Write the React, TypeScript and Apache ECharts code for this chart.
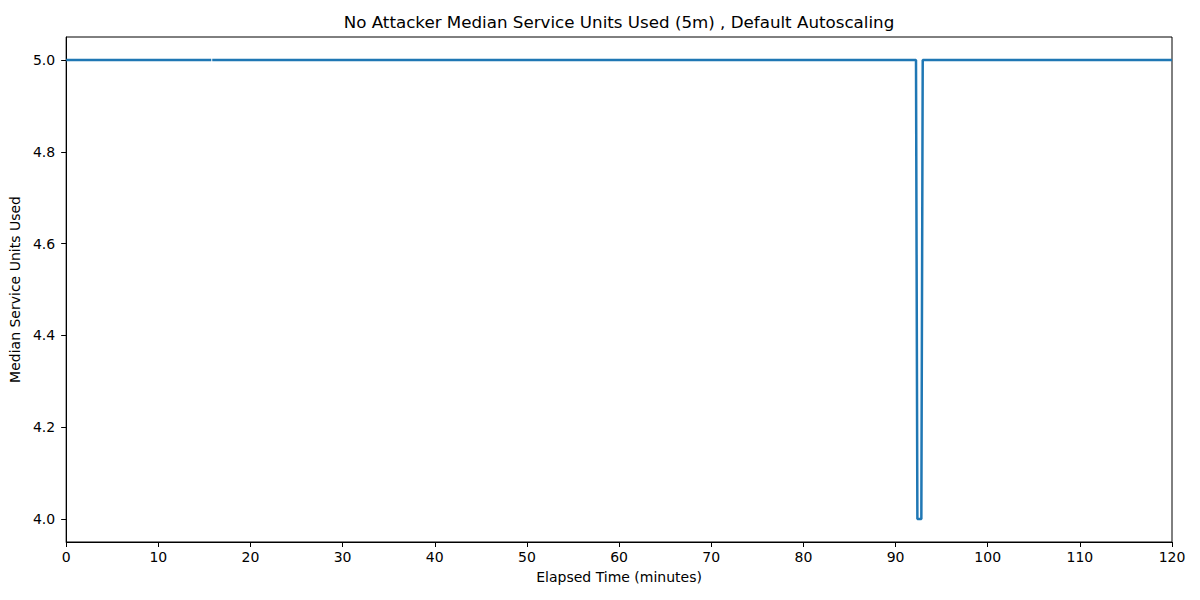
import React, { useEffect, useRef } from "react";
import * as echarts from "echarts";

const titleText = "No Attacker Median Service Units Used (5m) , Default Autoscaling";
const xLabel = "Elapsed Time (minutes)";
const yLabel = "Median Service Units Used";
const yTicks = [4.0, 4.2, 4.4, 4.6, 4.8, 5.0];
// [minutes, median service units]; null marks a small gap in samples
const segmentA: [number, number][] = [
  [0, 5],
  [15.75, 5],
];
const segmentB: [number, number][] = [
  [15.85, 5],
  [92.22, 5],
  [92.37, 4],
  [92.8, 4],
  [92.95, 5],
  [120, 5],
];

export default function App() {
  const ref = useRef<HTMLDivElement>(null);
  useEffect(() => {
    document.body.style.margin = "0";
    const chart = echarts.init(ref.current!, null, { renderer: "svg" });
    const data: any[] = [...segmentA, null, ...segmentB];
    const font = "DejaVu Sans";
    chart.setOption({
      animation: false,
      backgroundColor: "#fff",
      textStyle: { fontFamily: font },
      title: {
        text: titleText,
        left: 619,
        top: 13,
        padding: 0,
        textAlign: "center",
        textStyle: { fontFamily: font, fontSize: 16.7, fontWeight: "normal", color: "#000" },
      },
      grid: {
        left: 66,
        right: 28,
        top: 37,
        bottom: 58,
        show: true,
        borderColor: "#000",
        borderWidth: 1,
        backgroundColor: "transparent",
      },
      xAxis: {
        type: "value",
        min: 0,
        max: 120,
        interval: 10,
        name: xLabel,
        nameLocation: "middle",
        nameGap: 28,
        nameTextStyle: { fontFamily: font, fontSize: 14, color: "#000" },
        axisLine: { show: true, lineStyle: { color: "#000", width: 1 } },
        axisTick: { show: true, length: 5, lineStyle: { color: "#000" } },
        axisLabel: { fontFamily: font, fontSize: 14, color: "#000", margin: 8 },
        splitLine: { show: false },
      },
      yAxis: {
        type: "value",
        min: 3.95,
        max: 5.05,
        name: yLabel,
        nameLocation: "middle",
        nameGap: 37,
        nameTextStyle: { fontFamily: font, fontSize: 14, color: "#000" },
        axisLine: { show: true, lineStyle: { color: "#000", width: 1 } },
        axisTick: {
          show: true,
          length: 5,
          lineStyle: { color: "#000" },
          customValues: yTicks,
        },
        axisLabel: {
          fontFamily: font,
          fontSize: 14,
          color: "#000",
          margin: 11,
          customValues: yTicks,
          formatter: (v: number) => v.toFixed(1),
        },
        splitLine: { show: false },
      },
      series: [
        {
          type: "line",
          data,
          showSymbol: false,
          connectNulls: false,
          lineStyle: { color: "#1f77b4", width: 2.5 },
          itemStyle: { color: "#1f77b4" },
        },
      ],
    });
    return () => chart.dispose();
  }, []);
  return <div ref={ref} style={{ width: 1200, height: 600 }} />;
}
